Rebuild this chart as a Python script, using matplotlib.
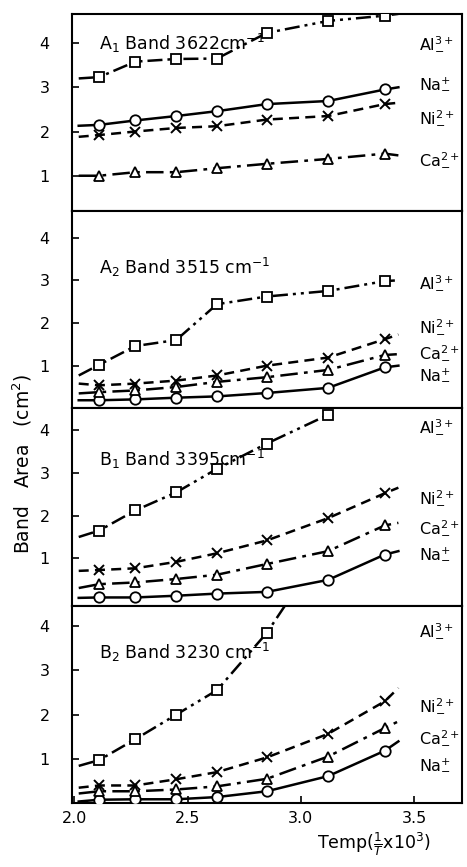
import numpy as np
import matplotlib
matplotlib.use('Agg')
import matplotlib.pyplot as plt

# 1/T x 10^3 of the measured points
temp = [2.11, 2.27, 2.45, 2.63, 2.85, 3.12, 3.37]

# panel titles and y limits
titles = [r'A$_1$ Band 3622cm$^{-1}$', r'A$_2$ Band 3515 cm$^{-1}$',
          r'B$_1$ Band 3395cm$^{-1}$', r'B$_2$ Band 3230 cm$^{-1}$']
title_y = [4.0, 3.3, 3.3, 3.39]
ylims = [(0.2, 4.66), (0.0, 4.62), (-0.1, 4.5), (0.02, 4.45)]

ions = ['Al', 'Na', 'Ni', 'Ca']
ion_labels = {'Al': r'Al$^{3+}_{-}$', 'Na': r'Na$^{+}_{-}$',
              'Ni': r'Ni$^{2+}_{-}$', 'Ca': r'Ca$^{2+}_{-}$'}

# marker values per panel (band area, cm^2)
a1_al = [3.23, 3.58, 3.64, 3.65, 4.23, 4.50, 4.62]
a1_na = [2.15, 2.25, 2.35, 2.46, 2.62, 2.69, 2.95]
a1_ni = [1.92, 2.00, 2.08, 2.12, 2.27, 2.35, 2.62]
a1_ca = [1.00, 1.08, 1.08, 1.17, 1.27, 1.38, 1.50]

a2_al = [1.02, 1.46, 1.60, 2.44, 2.62, 2.75, 2.98]
a2_na = [0.19, 0.21, 0.25, 0.28, 0.36, 0.48, 0.96]
a2_ni = [0.54, 0.58, 0.65, 0.77, 1.00, 1.19, 1.62]
a2_ca = [0.38, 0.42, 0.50, 0.62, 0.73, 0.90, 1.25]

b1_al = [1.65, 2.12, 2.54, 3.09, 3.68, 4.35]
b1_na = [0.09, 0.09, 0.13, 0.18, 0.22, 0.50, 1.09]
b1_ni = [0.73, 0.77, 0.92, 1.12, 1.42, 1.94, 2.52]
b1_ca = [0.40, 0.44, 0.52, 0.62, 0.87, 1.17, 1.77]

b2_al = [0.98, 1.45, 2.00, 2.55, 3.84]
b2_na = [0.09, 0.10, 0.10, 0.15, 0.28, 0.62, 1.19]
b2_ni = [0.41, 0.41, 0.55, 0.71, 1.04, 1.57, 2.30]
b2_ca = [0.28, 0.28, 0.32, 0.39, 0.56, 1.06, 1.70]

# where the drawn curves start and stop (x, y)
line_start = [
    {'Al': (2.02, 3.20), 'Na': (2.02, 2.13), 'Ni': (2.02, 1.88), 'Ca': (2.02, 1.00)},
    {'Al': (2.02, 0.77), 'Na': (2.02, 0.19), 'Ni': (2.02, 0.58), 'Ca': (2.02, 0.35)},
    {'Al': (2.02, 1.50), 'Na': (2.02, 0.08), 'Ni': (2.02, 0.71), 'Ca': (2.02, 0.31)},
    {'Al': (2.02, 0.85), 'Na': (2.02, 0.05), 'Ni': (2.02, 0.36), 'Ca': (2.02, 0.23)},
]
line_end = [
    {'Al': (3.43, 4.66), 'Na': (3.43, 3.00), 'Ni': (3.43, 2.65), 'Ca': (3.43, 1.46)},
    {'Al': (3.43, 3.00), 'Na': (3.43, 1.00), 'Ni': (3.43, 1.73), 'Ca': (3.43, 1.27)},
    {'Al': (3.15, 4.50), 'Na': (3.43, 1.17), 'Ni': (3.43, 2.65), 'Ca': (3.43, 1.83)},
    {'Al': (2.93, 4.45), 'Na': (3.43, 1.40), 'Ni': (3.43, 2.60), 'Ca': (3.43, 1.85)},
]

# right-hand label heights per panel
label_y = [
    {'Al': 4.0, 'Na': 3.1, 'Ni': 2.33, 'Ca': 1.37},
    {'Al': 2.96, 'Na': 0.8, 'Ni': 1.92, 'Ca': 1.3},
    {'Al': 4.08, 'Na': 1.12, 'Ni': 2.42, 'Ca': 1.73},
    {'Al': 3.89, 'Na': 0.89, 'Ni': 2.2, 'Ca': 1.5},
]

panels = [
    {'Al': a1_al, 'Na': a1_na, 'Ni': a1_ni, 'Ca': a1_ca},
    {'Al': a2_al, 'Na': a2_na, 'Ni': a2_ni, 'Ca': a2_ca},
    {'Al': b1_al, 'Na': b1_na, 'Ni': b1_ni, 'Ca': b1_ca},
    {'Al': b2_al, 'Na': b2_na, 'Ni': b2_ni, 'Ca': b2_ca},
]

styles = {
    'Al': dict(ls=(0, (6, 2, 1.2, 2, 1.2, 2)), marker='s'),
    'Na': dict(ls='-', marker='o'),
    'Ni': dict(ls=(0, (4, 2.5)), marker='x'),
    'Ca': dict(ls=(0, (7, 2.5, 1.5, 2.5)), marker='^'),
}

plt.rcParams['font.family'] = ['DejaVu Sans']
fig = plt.figure(figsize=(4.67, 8.67), dpi=100)
gs = fig.add_gridspec(4, 1, left=0.154, right=0.989, bottom=0.074, top=0.984, hspace=0)

for i in range(4):
    ax = fig.add_subplot(gs[i])
    for ion in ions:
        vals = panels[i][ion]
        xs = temp[:len(vals)]
        sx, sy = line_start[i][ion]
        ex, ey = line_end[i][ion]
        st = styles[ion]
        ax.plot([sx] + xs + [ex], [sy] + vals + [ey], color='black', lw=1.8,
                ls=st['ls'], clip_on=True, zorder=2)
        if st['marker'] == 'x':
            ax.plot(xs, vals, ls='none', marker='x', ms=7, mew=1.4,
                    color='black', zorder=3)
        else:
            ax.plot(xs, vals, ls='none', marker=st['marker'], ms=7.5, mew=1.3,
                    mfc='white', mec='black', zorder=3)
        ax.text(3.52, label_y[i][ion], ion_labels[ion], fontsize=11.5,
                va='center', ha='left')
    ax.text(2.11, title_y[i], titles[i], fontsize=12.5, va='center', ha='left')
    ax.set_xlim(1.99, 3.71)
    ax.set_ylim(*ylims[i])
    ax.set_yticks([1, 2, 3, 4])
    ax.set_xticks([2.0, 2.5, 3.0, 3.5])
    ax.tick_params(direction='in', length=5, width=1.2, labelsize=11.5)
    ax.tick_params(axis='y', pad=16)
    for sp in ax.spines.values():
        sp.set_linewidth(1.5)
    if i < 3:
        ax.tick_params(axis='x', labelbottom=False, bottom=False)
    else:
        ax.set_xticklabels(['2.0', '2.5', '3.0', '3.5'])
        ax.tick_params(axis='x', pad=6)

fig.text(0.047, 0.465, r'Band   Area   (cm$^2$)', rotation=90, fontsize=13.5,
         ha='center', va='center')
fig.text(0.80, 0.01, r'Temp($\frac{1}{T}$x10$^3$)', fontsize=12.5,
         ha='center', va='bottom')

fig.savefig('out.png', dpi=100)
